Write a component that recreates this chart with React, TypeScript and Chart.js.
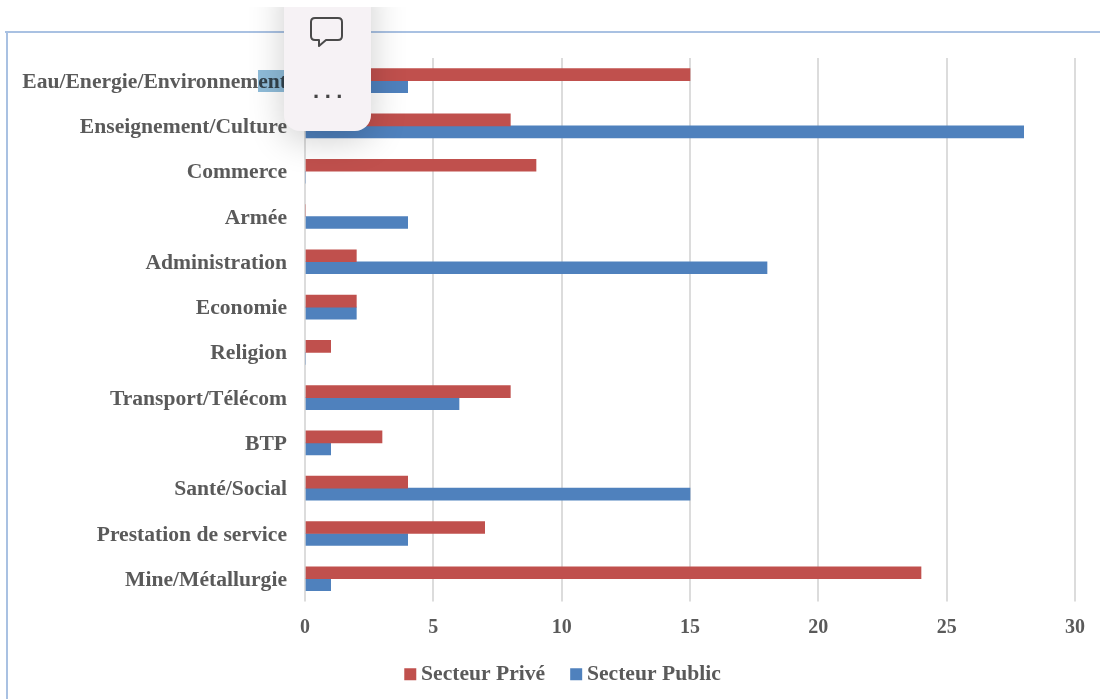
import React, { useEffect, useRef } from "react";
import { Chart, registerables } from "chart.js";

Chart.register(...registerables);

const categories = [
  "Eau/Energie/Environnement",
  "Enseignement/Culture",
  "Commerce",
  "Armée",
  "Administration",
  "Economie",
  "Religion",
  "Transport/Télécom",
  "BTP",
  "Santé/Social",
  "Prestation de service",
  "Mine/Métallurgie",
];
const secteurPrive = [15, 8, 9, 0, 2, 2, 1, 8, 3, 4, 7, 24];
const secteurPublic = [4, 28, 0, 4, 18, 2, 0, 6, 1, 15, 4, 1];

const FONT = "'Liberation Serif', serif";
const TEXT = "#5a5a5a";

const shiftLegend = {
  id: "shiftLegend",
  afterLayout(chart: any) {
    if (chart.legend) {
      chart.legend.left += 28;
      chart.legend.right += 28;
      chart.legend.top -= 19;
      chart.legend.bottom -= 19;
    }
  },
};

export default function App() {
  const ref = useRef<HTMLCanvasElement>(null);
  useEffect(() => {
    const chart = new Chart(ref.current!, {
      type: "bar",
      data: {
        labels: categories,
        datasets: [
          { label: "Secteur Privé", data: secteurPrive, backgroundColor: "#c0504d", barThickness: 12 },
          { label: "Secteur Public", data: secteurPublic, backgroundColor: "#4f81bd", barThickness: 12 },
        ],
      },
      plugins: [shiftLegend],
      options: {
        indexAxis: "y",
        animation: false,
        responsive: false,
        layout: { padding: { left: 0, right: 25, top: 58, bottom: -15 } },
        scales: {
          x: {
            min: 0,
            max: 30,
            ticks: { stepSize: 5, padding: 14, color: TEXT, font: { family: FONT, size: 20, weight: "bold" } },
            grid: { color: "#dcdcdc", lineWidth: 2, tickLength: 0 },
            border: { display: false },
            afterFit: (s: any) => { s.height = 50; },
          },
          y: {
            ticks: { padding: 18, labelOffset: 1.5, color: TEXT, font: { family: FONT, size: 21.6, weight: "bold" } },
            grid: { display: false, drawTicks: false },
            border: { display: false },
            afterFit: (s: any) => { s.width = 305; },
          },
        },
        plugins: {
          tooltip: { enabled: false },
          legend: {
            position: "bottom",
            labels: {
              usePointStyle: true,
              pointStyle: "rect",
              boxWidth: 0.01,
              boxHeight: 12,
              padding: 31,
              color: TEXT,
              font: { family: FONT, size: 21.6, weight: "bold" },
            },
          },
        },
      },
    } as any);
    return () => chart.destroy();
  }, []);

  return (
    <div style={{ position: "absolute", left: 0, top: 0, width: 1100, height: 699, overflow: "hidden", background: "#fff" }}>
      <canvas ref={ref} width={1100} height={699} style={{ position: "absolute", left: 0, top: 0, filter: "blur(0.7px)" }} />
      <div style={{ position: "absolute", left: 5, top: 31, width: 1095, height: 2, background: "#a9c1e2" }} />
      <div style={{ position: "absolute", left: 6, top: 31, width: 2, height: 668, background: "#a9c1e2" }} />
      <div style={{ position: "absolute", left: 258, top: 70, width: 27, height: 22, background: "#8fbcd9", mixBlendMode: "multiply" }} />
      <div style={{ position: "absolute", left: 200, top: 7, width: 260, height: 200, overflow: "hidden" }}>
        <div style={{ position: "absolute", left: 84, top: -40, width: 87, height: 164, background: "#f6f2f5", borderRadius: 16, boxShadow: "0 8px 36px rgba(0,0,0,0.2)" }}>
          <svg width="36" height="36" viewBox="0 0 36 36" style={{ position: "absolute", left: 25, top: 48 }}>
            <path d="M6 3 H29 Q33 3 33 7 V21 Q33 25 29 25 H17 L10 31 V25 H6 Q2 25 2 21 V7 Q2 3 6 3 Z" fill="none" stroke="#4a4a4a" strokeWidth="2" strokeLinejoin="round" />
          </svg>
          <div style={{ position: "absolute", left: 3, width: 87, top: 113, textAlign: "center", fontFamily: "'Liberation Sans', sans-serif", fontSize: 22, lineHeight: "22px", fontWeight: "bold", letterSpacing: 5.5, color: "#444" }}>...</div>
        </div>
      </div>
    </div>
  );
}
